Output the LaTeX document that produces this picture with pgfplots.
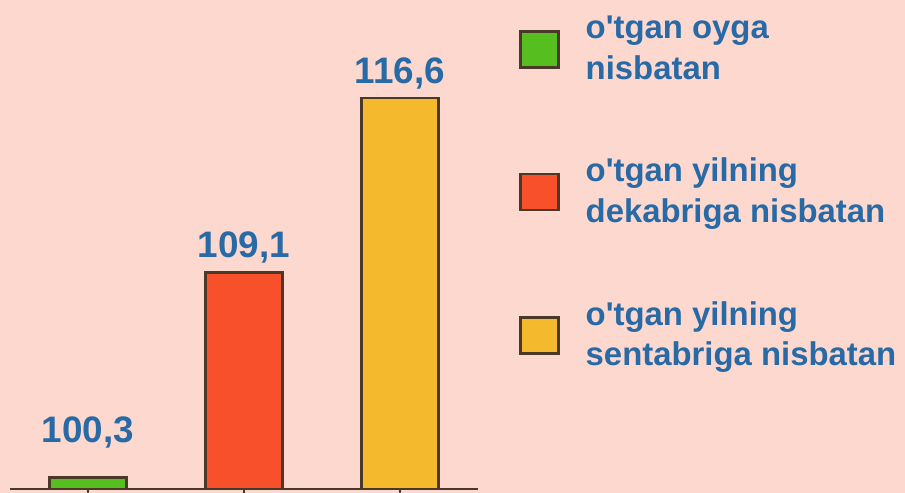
\documentclass[border=0pt]{standalone}
\usepackage{pgfplots}
\pgfplotsset{compat=1.18}
\usepackage{fontspec}
\setmainfont{Liberation Sans}
\usetikzlibrary{backgrounds}
\definecolor{bgc}{RGB}{252,216,207}
\definecolor{gr}{RGB}{86,190,30}
\definecolor{rd}{RGB}{247,80,42}
\definecolor{yl}{RGB}{245,185,45}
\definecolor{edge}{RGB}{74,56,40}
\definecolor{txt}{RGB}{40,106,166}
\begin{document}
\begin{tikzpicture}
\useasboundingbox (0,0) rectangle (905bp,493bp);
\begin{axis}[
  at={(10bp,4bp)}, anchor=south west,
  scale only axis, width=468bp, height=470bp,
  xmin=-0.5, xmax=2.5, ymin=99.8, ymax=120,
  axis y line=none, axis x line*=bottom,
  axis line style={edge, line width=1.6bp},
  xtick={0,1,2}, xticklabels={},
  tick style={edge, line width=1.2bp},
  tick align=outside, major tick length=4bp,
  ybar, bar width=77bp, bar shift=0pt,
  /pgf/number format/assume math mode=true,
  nodes near coords={\pgfmathprintnumber[fixed,fixed zerofill,precision=1,use comma]{\pgfplotspointmeta}},
  nodes near coords style={font=\fontsize{37}{40}\selectfont\bfseries, text=txt, anchor=base, inner sep=0pt, yshift=15bp},
  myleg/.style={legend image code/.code={\draw[##1, line width=2.5bp] (0bp,-19bp) rectangle (38bp,17bp);}},
  legend style={draw=none, fill=none, font=\fontsize{33}{41}\selectfont\bfseries, text=txt,
    at={(1.0812,1.0106)}, anchor=north west, row sep=77bp, column sep=26bp,
    nodes={align=left, inner sep=0pt}},
  legend cell align=left,
]
\addplot[fill=gr, draw=edge, line width=2.5bp, myleg, every node near coord/.append style={yshift=20bp}] coordinates {(0,100.3)};
\addlegendentry{o\textquotesingle tgan oyga\\nisbatan}
\addplot[fill=rd, draw=edge, line width=2.5bp, myleg] coordinates {(1,109.1)};
\addlegendentry{o\textquotesingle tgan yilning\\dekabriga nisbatan}
\addplot[fill=yl, draw=edge, line width=2.5bp, myleg] coordinates {(2,116.6)};
\addlegendentry{o\textquotesingle tgan yilning\\sentabriga nisbatan}
\end{axis}
\begin{scope}[on background layer]
\fill[bgc] (0,0) rectangle (905bp,493bp);
\end{scope}
\end{tikzpicture}
\end{document}
